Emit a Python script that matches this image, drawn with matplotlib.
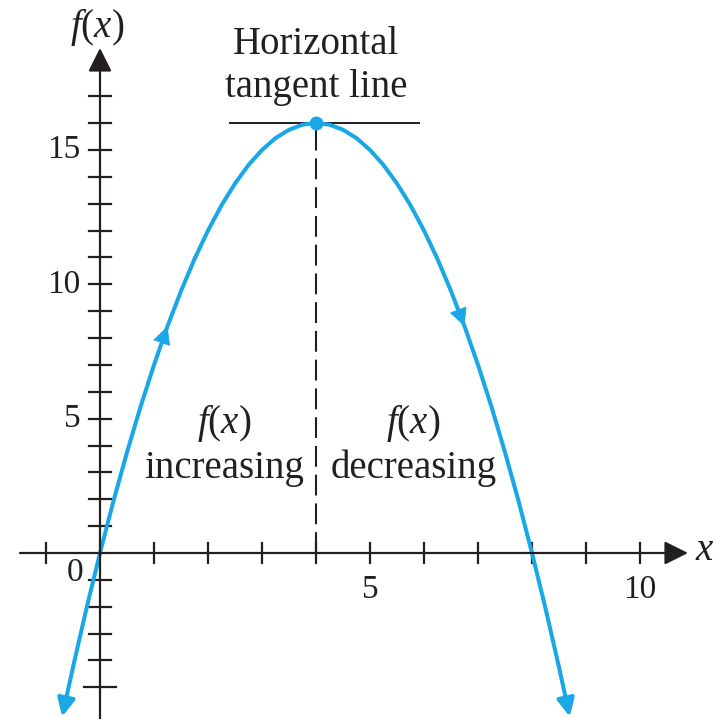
import numpy as np
import matplotlib.pyplot as plt

plt.rcParams['font.family'] = 'Liberation Serif'
plt.rcParams['mathtext.fontset'] = 'custom'
plt.rcParams['mathtext.rm'] = 'Liberation Serif'
plt.rcParams['mathtext.it'] = 'Liberation Serif:italic'

# points on f(x) = 8x - x^2, read at quarter steps
x_pts = [-0.7, -0.5, -0.25, 0, 0.25, 0.5, 0.75, 1, 1.25, 1.5, 1.75, 2,
         2.25, 2.5, 2.75, 3, 3.25, 3.5, 3.75, 4, 4.25, 4.5, 4.75, 5,
         5.25, 5.5, 5.75, 6, 6.25, 6.5, 6.75, 7, 7.25, 7.5, 7.75, 8,
         8.25, 8.5, 8.7]
y_pts = [-6.09, -4.25, -2.06, 0, 1.94, 3.75, 5.44, 7, 8.44, 9.75, 10.94, 12,
         12.94, 13.75, 14.44, 15, 15.44, 15.75, 15.94, 16, 15.94, 15.75, 15.44, 15,
         14.44, 13.75, 12.94, 12, 10.94, 9.75, 8.44, 7, 5.44, 3.75, 1.94, 0,
         -2.06, -4.25, -6.09]

peak_x, peak_y = 4, 16
tangent_x = [2.4, 5.9]
x_ticks = list(range(-1, 11))
y_ticks = list(range(-5, 18))
x_ticklabels = [5, 10]
y_ticklabels = [5, 10, 15]

BLUE = '#19a7e5'
INK = '#231f20'

# pixel scale of one unit on each axis
PX_X = 54.0
PX_Y = 26.87

fig = plt.figure(figsize=(7.14, 7.19), dpi=100)
ax = fig.add_axes([0, 0, 1, 1])
ax.set_xlim(-100 / PX_X, 614 / PX_X)
ax.set_ylim(-166 / PX_Y, 553 / PX_Y)
ax.axis('off')

axis_arrow = dict(arrowstyle='-|>,head_length=0.4,head_width=0.2',
                  mutation_scale=36, lw=1.6, color=INK, shrinkA=0, shrinkB=0)
ax.annotate('', xy=(588 / PX_X, 0), xytext=(-80 / PX_X, 0), arrowprops=axis_arrow)
ax.annotate('', xy=(0, 505 / PX_Y), xytext=(0, -170 / PX_Y), arrowprops=axis_arrow)

# tick marks
for t in x_ticks:
    if t != 0:
        ax.plot([t, t], [-10 / PX_Y, 10 / PX_Y], color=INK, lw=1.6)
for t in y_ticks:
    if t != 0:
        half = 16 / PX_X if t == -5 else 11 / PX_X
        ax.plot([-half, half], [t, t], color=INK, lw=1.6)

for t in y_ticklabels:
    ax.text(-0.36, t, str(t), ha='right', va='center', fontsize=24, color=INK)
for t in x_ticklabels:
    ax.text(t, -1.38, str(t), ha='center', va='center', fontsize=24, color=INK)
ax.text(-0.46, -0.72, '0', ha='center', va='center', fontsize=24, color=INK)

ax.text(11.2, 0.1, '$x$', ha='center', va='center', fontsize=28, color=INK)
ax.text(-0.06, 19.55, '$f(x)$', ha='center', va='center', fontsize=28, color=INK)

# vertical dashed line through the maximum and the tangent line
ax.plot([peak_x, peak_x], [0, peak_y], color=INK, lw=1.5, dashes=(10, 3.8))
ax.plot(tangent_x, [peak_y, peak_y], color=INK, lw=1.4)

# the parabola
ax.plot(x_pts[1:-1], y_pts[1:-1], color=BLUE, lw=2.9, solid_capstyle='butt',
        solid_joinstyle='round')
end_arrow = dict(arrowstyle='-|>,head_length=0.45,head_width=0.22',
                 mutation_scale=24, lw=2.9, color=BLUE, shrinkA=0, shrinkB=0)
ax.annotate('', xy=(x_pts[0], y_pts[0]), xytext=(x_pts[1], y_pts[1]), arrowprops=end_arrow)
ax.annotate('', xy=(x_pts[-1], y_pts[-1]), xytext=(x_pts[-2], y_pts[-2]), arrowprops=end_arrow)

# direction arrows on each branch
mid_arrow = dict(arrowstyle='-|>,head_length=0.5,head_width=0.25',
                 mutation_scale=24, lw=0.5, color=BLUE, shrinkA=0, shrinkB=0)
ax.annotate('', xy=(x_pts[8], y_pts[8]), xytext=(x_pts[7], y_pts[7]), arrowprops=mid_arrow)
ax.annotate('', xy=(x_pts[30], y_pts[30]), xytext=(x_pts[29], y_pts[29]), arrowprops=mid_arrow)

ax.plot(peak_x, peak_y, 'o', ms=9, color=BLUE)

ax.text(4, 18.12, 'Horizontal\ntangent line', ha='center', va='center',
        fontsize=28, linespacing=1.2, color=INK)
ax.text(2.3, 4.02, '$f(x)$\nincreasing', ha='center', va='center',
        fontsize=28, linespacing=1.2, color=INK)
ax.text(5.8, 4.02, '$f(x)$\ndecreasing', ha='center', va='center',
        fontsize=28, linespacing=1.2, color=INK)

fig.savefig('out.png', dpi=100)
